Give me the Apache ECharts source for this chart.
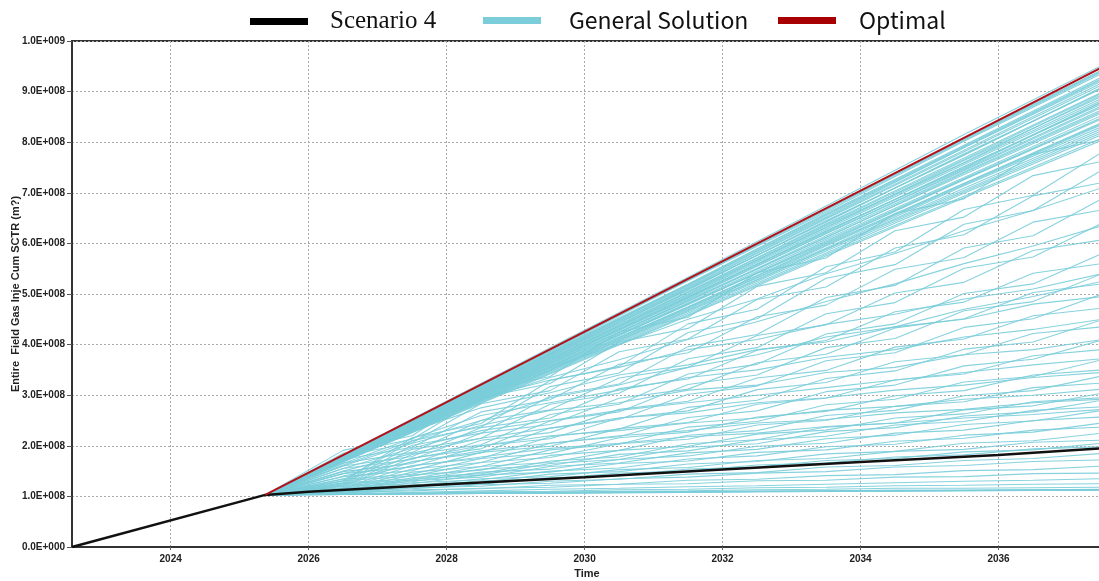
<!DOCTYPE html>
<html><head><meta charset="utf-8">
<script src="https://cdn.jsdelivr.net/npm/echarts@6/dist/echarts.min.js"></script>
<style>html,body{margin:0;padding:0;background:#fff}#c{width:1099px;height:581px}</style>
</head><body><div id="c"></div>
<script>
// ---- data (values in units of 1e8 m3) ----
const xTicks = [2024, 2026, 2028, 2030, 2032, 2034, 2036];
const scenarioTimes = [2022.57, 2025.37, 2026, 2028, 2030, 2032, 2034, 2036, 2037.5];
const scenarioVals  = [0, 1.03, 1.09, 1.24, 1.38, 1.53, 1.68, 1.82, 1.95];
const optimalTimes = [2025.37, 2037.5];
const optimalVals  = [1.03, 9.48];
const genStart = 1.03;
const bandTimes = [2025.37, 2027.5, 2029.5, 2031.5, 2033.5, 2035.5, 2037.5];
const bandLines = [
 [2.53,3.94,5.33,6.74,8.15,9.52],[2.51,3.91,5.29,6.69,8.08,9.43],[2.50,3.87,5.26,6.62,8.02,9.36],
 [2.47,3.86,5.20,6.59,7.94,9.29],[2.48,3.82,5.18,6.52,7.89,9.21],[2.45,3.81,5.12,6.48,7.81,9.13],
 [2.44,3.76,5.11,6.42,7.77,9.06],[2.42,3.76,5.05,6.39,7.69,8.99],[2.42,3.71,5.03,6.32,7.64,8.91],
 [2.39,3.70,4.97,6.28,7.56,8.83],[2.40,3.66,4.95,6.22,7.52,8.76],[2.37,3.66,4.90,6.19,7.44,8.69],
 [2.36,3.61,4.88,6.11,7.39,8.61],[2.35,3.60,4.82,6.08,7.30,8.53],[2.33,3.56,4.80,6.01,7.26,8.46],
 [2.32,3.55,4.75,5.99,7.19,8.39],[2.31,3.51,4.73,5.91,7.14,8.31],[2.29,3.50,4.67,5.88,7.05,8.23],
 [2.49,3.89,5.27,6.65,8.04,9.39],[2.46,3.83,5.16,6.55,7.90,9.24],[2.43,3.79,5.08,6.45,7.74,9.09],
 [2.41,3.73,5.00,6.35,7.60,8.94],[2.38,3.68,4.93,6.25,7.48,8.79],[2.36,3.63,4.86,6.15,7.41,8.64],
 [2.34,3.58,4.79,6.05,7.28,8.49],[2.32,3.52,4.71,5.95,7.16,8.35],[2.28,3.46,4.62,5.81,6.99,8.15],
 [2.27,3.44,4.59,5.78,6.93,8.08],
 [2.50,3.90,5.28,6.67,8.06,9.41],[2.47,3.84,5.19,6.57,7.92,9.26],[2.46,3.80,5.14,6.50,7.84,9.17],
 [2.44,3.78,5.09,6.44,7.75,9.08],[2.42,3.74,5.04,6.37,7.66,8.97],[2.41,3.71,4.99,6.31,7.59,8.87],
 [2.39,3.68,4.94,6.24,7.50,8.80],[2.38,3.64,4.92,6.20,7.46,8.72],[2.36,3.62,4.85,6.12,7.36,8.58],
 [2.34,3.57,4.81,6.03,7.27,8.48],[2.32,3.54,4.74,5.97,7.18,8.37],[2.30,3.49,4.69,5.89,7.09,8.27],
 [2.29,3.48,4.65,5.85,7.02,8.19],[2.26,3.42,4.57,5.75,6.90,8.04]
];
const lowerTimes = [2025.37, 2026.5, 2027.5, 2028.5, 2029.5, 2030.5, 2031.5, 2032.5, 2033.5, 2034.5, 2035.5, 2036.5, 2037.5];
const lowerLines = [
 [1.91,2.20,3.08,3.37,4.25,4.54,5.42,5.71,6.59,6.88,7.76,8.05],
 [1.31,2.16,2.44,3.29,3.57,4.41,4.70,5.54,5.83,6.67,6.95,7.80],
 [1.85,2.13,2.95,3.23,4.05,4.32,5.15,5.42,6.25,6.52,7.34,7.62],
 [1.30,2.10,2.37,3.17,3.44,4.24,4.51,5.31,5.58,6.38,6.65,7.45],
 [1.80,2.06,2.83,3.09,3.86,4.11,4.89,5.14,5.91,6.17,6.94,7.20],
 [1.27,2.01,2.25,2.98,3.22,3.96,4.20,4.93,5.17,5.91,6.15,6.88],
 [1.73,1.97,2.67,2.91,3.61,3.84,4.55,4.78,5.49,5.72,6.42,6.66],
 [1.25,1.93,2.15,2.82,3.04,3.72,3.94,4.61,4.83,5.51,5.73,6.40],
 [1.66,1.87,2.50,2.71,3.34,3.55,4.18,4.39,5.02,5.23,5.86,6.07],
 [1.23,1.83,2.02,2.62,2.82,3.42,3.61,4.21,4.41,5.01,5.20,5.80],
 [1.60,1.79,2.36,2.55,3.13,3.32,3.89,4.08,4.65,4.84,5.41,5.60],
 [1.21,1.76,1.94,2.49,2.67,3.21,3.40,3.94,4.12,4.67,4.85,5.40],
 [1.55,1.73,2.25,2.42,2.94,3.12,3.64,3.81,4.33,4.51,5.03,5.20],
 [1.20,1.69,1.86,2.35,2.52,3.02,3.18,3.68,3.84,4.34,4.51,5.00],
 [1.49,1.65,2.11,2.26,2.72,2.88,3.34,3.49,3.95,4.11,4.57,4.72],
 [1.17,1.61,1.75,2.18,2.33,2.76,2.90,3.33,3.48,3.91,4.05,4.49],
 [1.45,1.58,2.00,2.14,2.55,2.69,3.11,3.25,3.66,3.80,4.22,4.35],
 [1.16,1.54,1.67,2.05,2.18,2.56,2.69,3.07,3.20,3.58,3.71,4.09],
 [1.39,1.51,1.87,1.99,2.34,2.46,2.82,2.94,3.30,3.42,3.78,3.90],
 [1.14,1.48,1.59,1.92,2.03,2.37,2.48,2.81,2.92,3.26,3.37,3.70],
 [1.34,1.44,1.75,1.85,2.16,2.27,2.57,2.68,2.99,3.09,3.40,3.50],
 [1.13,1.42,1.52,1.81,1.91,2.21,2.30,2.60,2.70,2.99,3.09,3.38],
 [1.31,1.40,1.67,1.77,2.04,2.13,2.41,2.50,2.78,2.87,3.15,3.24],
 [1.11,1.37,1.45,1.70,1.78,2.04,2.12,2.37,2.45,2.71,2.79,3.04],
 [1.27,1.35,1.59,1.67,1.91,1.99,2.23,2.31,2.55,2.63,2.87,2.95],
 [1.11,1.34,1.42,1.65,1.73,1.97,2.04,2.28,2.36,2.59,2.67,2.90],
 [1.25,1.32,1.54,1.61,1.83,1.90,2.12,2.19,2.41,2.48,2.70,2.77],
 [1.10,1.31,1.38,1.59,1.66,1.86,1.93,2.14,2.21,2.42,2.49,2.70],
 [1.22,1.29,1.48,1.54,1.73,1.80,1.99,2.05,2.25,2.31,2.50,2.57],
 [1.09,1.27,1.33,1.50,1.56,1.74,1.80,1.98,2.03,2.21,2.27,2.45],
 [1.20,1.25,1.42,1.48,1.65,1.70,1.87,1.92,2.09,2.15,2.31,2.37],
 [1.08,1.23,1.28,1.44,1.49,1.64,1.69,1.84,1.89,2.05,2.10,2.25],
 [1.17,1.21,1.35,1.39,1.53,1.57,1.71,1.75,1.89,1.93,2.07,2.11],
 [1.07,1.20,1.24,1.37,1.41,1.54,1.58,1.71,1.75,1.88,1.92,2.05],
 [1.15,1.19,1.31,1.35,1.46,1.50,1.62,1.66,1.78,1.82,1.94,1.98],
 [1.06,1.17,1.20,1.30,1.34,1.44,1.47,1.58,1.61,1.71,1.75,1.85],
 [1.12,1.15,1.23,1.26,1.35,1.38,1.46,1.49,1.58,1.61,1.69,1.72],
 [1.05,1.13,1.15,1.22,1.24,1.32,1.34,1.41,1.43,1.51,1.53,1.60],
 [1.09,1.11,1.16,1.18,1.24,1.25,1.31,1.32,1.38,1.39,1.45,1.46],
 [1.05,1.08,1.11,1.14,1.16,1.19,1.21,1.24,1.27,1.30,1.32,1.35],
 [1.05,1.06,1.09,1.10,1.13,1.14,1.17,1.18,1.21,1.22,1.24,1.25],
 [1.04,1.05,1.07,1.08,1.10,1.11,1.13,1.14,1.16,1.16,1.17,1.18],
 [1.04,1.05,1.06,1.07,1.08,1.09,1.10,1.10,1.11,1.12,1.12,1.13],
 [1.04,1.05,1.06,1.07,1.08,1.09,1.10,1.11,1.12,1.12,1.13,1.14],
 [1.04,1.05,1.06,1.06,1.07,1.08,1.09,1.10,1.10,1.11,1.12,1.12],
 [1.05,1.06,1.07,1.08,1.09,1.09,1.10,1.11,1.12,1.12,1.13,1.13],
 // lines rising fast early, then flattening
 [1.75,2.40,2.95,3.30,3.55,3.90,4.10,4.40,4.60,4.90,5.10,5.40],
 [1.70,2.30,2.75,3.05,3.40,3.60,3.90,4.05,4.35,4.50,4.80,4.95],
 [1.65,2.15,2.60,2.85,3.10,3.35,3.50,3.75,3.90,4.15,4.30,4.50],
 [1.60,2.05,2.40,2.70,2.85,3.10,3.20,3.45,3.55,3.80,3.90,4.10],
 [1.55,1.95,2.30,2.50,2.70,2.85,3.00,3.15,3.30,3.45,3.60,3.72],
 [1.50,1.85,2.15,2.35,2.55,2.65,2.85,2.95,3.10,3.20,3.35,3.45],
 [1.45,1.75,2.00,2.20,2.30,2.45,2.55,2.70,2.78,2.92,3.00,3.12],
 [1.70,2.35,2.90,3.35,3.70,4.10,4.45,4.85,5.20,5.60,5.95,6.35],
 [1.72,2.38,3.00,3.55,4.00,4.50,4.90,5.40,5.80,6.25,6.65,7.10],
 [1.40,1.68,1.90,2.05,2.20,2.30,2.45,2.52,2.65,2.72,2.85,2.92],
 [1.35,1.60,1.78,1.95,2.05,2.18,2.25,2.38,2.45,2.55,2.62,2.72],
 [1.62,2.10,2.50,2.95,3.20,3.55,3.80,4.15,4.35,4.70,4.95,5.25]
];
const UNIT = 1e8;

// ---- build ----
function pairs(ts, vs){ return ts.map((t,i)=>[t, vs[i]*UNIT]); }
function sci(v){
  if (v === 0) return '0.0E+000';
  const e = Math.floor(Math.log10(Math.abs(v)) + 1e-9);
  const m = v / Math.pow(10, e);
  return m.toFixed(1) + 'E' + (e < 0 ? '-' : '+') + String(Math.abs(e)).padStart(3, '0');
}
const CYAN = '#7acdd9';
const series = [];
function addGen(ts, line){
  series.push({
    name: 'General Solution', type: 'line', showSymbol: false, silent: true,
    data: pairs(ts, [genStart].concat(line)),
    lineStyle: { color: CYAN, width: 1.1, opacity: 0.9 }, itemStyle: { color: CYAN }, z: 2
  });
}
bandLines.forEach(l => addGen(bandTimes, l));
lowerLines.forEach(l => addGen(lowerTimes, l));
series.push({
  name: 'Scenario 4', type: 'line', showSymbol: false, silent: true,
  data: pairs(scenarioTimes, scenarioVals),
  lineStyle: { color: '#111', width: 2.5 }, itemStyle: { color: '#000' }, z: 3
});
series.push({
  name: 'Optimal', type: 'line', showSymbol: false, silent: true,
  data: pairs(optimalTimes, optimalVals),
  lineStyle: { color: '#b3121a', width: 2 }, itemStyle: { color: '#a80000' }, z: 4
});

const legendBase = { top: 4, itemWidth: 58, itemHeight: 7, icon: 'rect', itemGap: 0 };
const option = {
  animation: false,
  backgroundColor: '#fff',
  legend: [
    Object.assign({}, legendBase, { left: 245, data: [{ name: 'Scenario 4', itemStyle:{color:'#000'} }],
      textStyle: { fontFamily: 'Liberation Serif', fontSize: 25, color: '#111', padding: [0,0,0,17] } }),
    Object.assign({}, legendBase, { left: 478, data: [{ name: 'General Solution', itemStyle:{color:CYAN} }],
      textStyle: { fontFamily: 'Noto Sans CJK SC', fontSize: 23, color: '#111', padding: [0,0,0,23] } }),
    Object.assign({}, legendBase, { left: 773, data: [{ name: 'Optimal', itemStyle:{color:'#a80000'} }],
      textStyle: { fontFamily: 'Noto Sans CJK SC', fontSize: 23, color: '#111', padding: [0,0,0,18] } })
  ],
  grid: { left: 72, right: -3, top: 41, bottom: 34, outerBoundsMode: 'none', containLabel: false,
    show: true, borderColor: '#333', borderWidth: 2, backgroundColor: 'transparent' },
  xAxis: {
    type: 'value', min: 2022.57, max: 2037.5,
    name: 'Time', nameLocation: 'middle', nameGap: 20,
    nameTextStyle: { fontFamily: 'Liberation Sans', fontWeight: 'bold', fontSize: 11, color: '#222' },
    axisLine: { show: true, lineStyle: { color: '#333', width: 2 } },
    axisTick: { show: true, length: 3, lineStyle: { color: '#666' }, customValues: xTicks },
    axisLabel: { customValues: xTicks, formatter: v => String(v), margin: 7,
      fontFamily: 'Liberation Sans', fontWeight: 'bold', fontSize: 10, color: '#222' },
    splitLine: { show: true, lineStyle: { color: '#aaa', type: [2, 2], width: 1 } }
  },
  yAxis: {
    type: 'value', min: 0, max: 1e9, interval: 1e8,
    name: 'Entire  Field Gas Inje Cum SCTR (m?)', nameLocation: 'middle', nameGap: 51,
    nameMoveOverlap: false,
    nameTextStyle: { fontFamily: 'Liberation Sans', fontWeight: 'bold', fontSize: 11, color: '#222' },
    axisLine: { show: true, lineStyle: { color: '#333', width: 2 } },
    axisTick: { show: true, length: 5, lineStyle: { color: '#555' } },
    axisLabel: { formatter: sci, margin: 7, fontFamily: 'Liberation Sans', fontWeight: 'bold', fontSize: 10, color: '#222' },
    splitLine: { show: true, lineStyle: { color: '#aaa', type: [2, 2], width: 1 } }
  },
  series: series
};
const chart = echarts.init(document.getElementById('c'), null, { renderer: 'canvas' });
chart.setOption(option);
</script></body></html>
